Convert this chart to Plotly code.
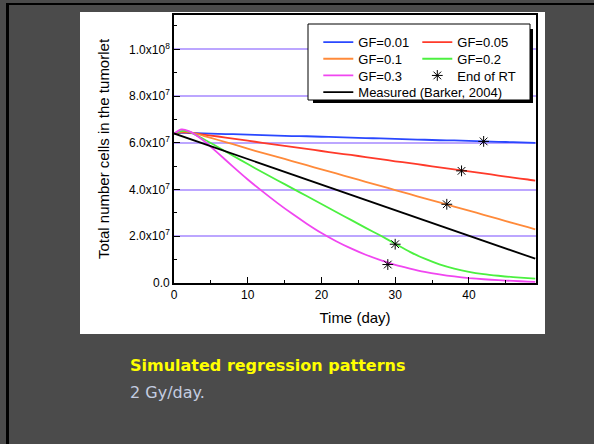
import plotly.graph_objects as go

# ---- data (cells x 1e7) ----
time = [0, 1, 2, 4, 6, 8, 10, 12, 14, 16, 18, 20, 22, 24, 26, 28, 30, 32, 34, 36, 38, 40, 42, 44, 46, 48, 49]
gf001 = [6.40, 6.43, 6.42, 6.40, 6.38, 6.37, 6.35, 6.33, 6.31, 6.29, 6.28, 6.26, 6.24, 6.22, 6.20, 6.19, 6.17, 6.15, 6.13, 6.11, 6.10, 6.08, 6.06, 6.04, 6.03, 6.01, 6.00]
gf005 = [6.40, 6.45, 6.44, 6.35, 6.27, 6.18, 6.09, 6.00, 5.91, 5.83, 5.74, 5.65, 5.56, 5.48, 5.39, 5.30, 5.21, 5.13, 5.04, 4.95, 4.86, 4.78, 4.69, 4.60, 4.51, 4.43, 4.38]
gf01 = [6.40, 6.48, 6.47, 6.30, 6.12, 5.94, 5.75, 5.57, 5.40, 5.22, 5.04, 4.86, 4.69, 4.51, 4.33, 4.16, 3.98, 3.80, 3.62, 3.45, 3.27, 3.10, 2.92, 2.74, 2.56, 2.39, 2.30]
gf02 = [6.40, 6.50, 6.48, 6.16, 5.81, 5.45, 5.09, 4.74, 4.40, 4.06, 3.72, 3.38, 3.04, 2.70, 2.36, 2.03, 1.68, 1.33, 1.04, 0.80, 0.62, 0.48, 0.38, 0.31, 0.25, 0.21, 0.19]
gf03 = [6.40, 6.57, 6.50, 6.10, 5.55, 4.98, 4.43, 3.92, 3.43, 2.97, 2.54, 2.14, 1.79, 1.48, 1.21, 0.98, 0.78, 0.62, 0.48, 0.37, 0.28, 0.21, 0.16, 0.12, 0.09, 0.06, 0.05]
meas_t = [0, 10, 20, 30, 40, 49]
meas_n = [6.40, 5.31, 4.21, 3.12, 2.02, 1.04]
rt_t = [42, 39, 37, 30, 29]
rt_n = [6.06, 4.80, 3.37, 1.66, 0.79]

yticks = [0, 2e7, 4e7, 6e7, 8e7, 1e8]
yticktext = ["0.0", "2.0x10<sup>7</sup>", "4.0x10<sup>7</sup>", "6.0x10<sup>7</sup>",
             "8.0x10<sup>7</sup>", "1.0x10<sup>8</sup>"]
xticks = [0, 10, 20, 30, 40]

S = 1e7
def sc(v):
    return [x * S for x in v]

fig = go.Figure()
series = [
    ("GF=0.01", gf001, "#2a48ff", "legend"),
    ("GF=0.05", gf005, "#ff3a2a", "legend"),
    ("GF=0.1", gf01, "#ff8a3a", "legend2"),
    ("GF=0.2", gf02, "#4cf040", "legend2"),
    ("GF=0.3", gf03, "#f046f0", "legend3"),
]
for name, vals, col, lg in series:
    fig.add_trace(go.Scatter(x=time, y=sc(vals), mode="lines", name=name,
                             line=dict(color=col, width=1.8, shape="spline", smoothing=0.6),
                             legend=lg))
fig.add_trace(go.Scatter(x=rt_t, y=sc(rt_n), mode="markers", name="End of RT",
                         marker=dict(symbol="asterisk-open", size=9, color="black",
                                     line=dict(color="black", width=1)),
                         legend="legend3"))
fig.add_trace(go.Scatter(x=meas_t, y=sc(meas_n), mode="lines", name="Measured (Barker, 2004)",
                         line=dict(color="black", width=1.8), legend="legend4"))

W, H = 594, 444
L, R, T, B = 174, 58, 15, 161
pw, ph = W - L - R, H - T - B
def px(x):
    return (x - L) / pw
def py(y):
    return (H - B - y) / ph

shapes = [
    # white panel
    dict(type="rect", xref="paper", yref="paper", x0=px(80), x1=px(545), y0=py(334), y1=py(12),
         fillcolor="white", line=dict(width=0), layer="below"),
    # slide borders
    dict(type="rect", xref="paper", yref="paper", x0=px(6), x1=px(594), y0=py(5), y1=py(3),
         fillcolor="black", line=dict(width=0), layer="below"),
    dict(type="rect", xref="paper", yref="paper", x0=px(6), x1=px(9), y0=py(444), y1=py(3),
         fillcolor="black", line=dict(width=0), layer="below"),
    # legend shadow and box
    dict(type="rect", xref="paper", yref="paper", x0=px(313), x1=px(533), y0=py(103), y1=py(29),
         fillcolor="black", line=dict(width=0), layer="above"),
    dict(type="rect", xref="paper", yref="paper", x0=px(308), x1=px(530), y0=py(100), y1=py(24),
         fillcolor="white", line=dict(color="black", width=1), layer="above"),
]

legfont = dict(family="Liberation Sans, Arial, sans-serif", size=13, color="black")
def leg(ytop, ew=54):
    return dict(orientation="h", x=px(318.3), xanchor="left", y=py(ytop), yanchor="top",
                bgcolor="rgba(0,0,0,0)", borderwidth=0, font=legfont,
                entrywidth=ew, entrywidthmode="pixels", itemwidth=30, tracegroupgap=0)

fig.update_layout(
    width=W, height=H,
    margin=dict(l=L, r=R, t=T, b=B),
    paper_bgcolor="#4b4b4b", plot_bgcolor="white",
    font=dict(family="Liberation Sans, Arial, sans-serif", size=12, color="black"),
    showlegend=True,
    legend=leg(27.2), legend2=leg(43.8), legend3=leg(60.5), legend4=leg(77.2, 160),
    shapes=shapes,
    xaxis=dict(range=[0, 49.1], tickmode="array", tickvals=xticks, ticks="inside", ticklen=6,
               tickwidth=1.2, tickcolor="black", showgrid=False, zeroline=False,
               showline=True, linecolor="black", linewidth=1.6, mirror=True,
               tickfont=dict(size=12),
               minor=dict(tickmode="array", tickvals=[5, 15, 25, 35, 45], ticks="inside",
                          ticklen=3, tickcolor="black", showgrid=False),
               title=dict(text="Time (day)", font=dict(size=15), standoff=11)),
    yaxis=dict(range=[0, 1.147e8], tickmode="array", tickvals=yticks, ticktext=yticktext,
               ticks="inside", ticklen=6, tickwidth=1.2, tickcolor="black",
               showgrid=True, gridcolor="#bca6ff", gridwidth=1.5, zeroline=False,
               showline=True, linecolor="black", linewidth=1.6, mirror=True,
               tickfont=dict(size=12),
               minor=dict(tickmode="array", tickvals=[1e7, 3e7, 5e7, 7e7, 9e7, 1.1e8],
                          ticks="inside", ticklen=3, tickcolor="black", showgrid=False),
               title=dict(text="Total number cells in the tumorlet", font=dict(size=15), standoff=16)),
    annotations=[
        dict(text="<b>Simulated regression patterns</b>", xref="paper", yref="paper",
             x=px(128), y=py(365), xanchor="left", yanchor="middle", showarrow=False,
             font=dict(family="DejaVu Sans", size=16, color="#ffff00")),
        dict(text="2 Gy/day.", xref="paper", yref="paper",
             x=px(128), y=py(392), xanchor="left", yanchor="middle", showarrow=False,
             font=dict(family="DejaVu Sans", size=16, color="#c4cde0")),
    ],
)

fig.write_html("out.html", config={"displayModeBar": False},
               post_script="document.body.style.margin='0px';document.body.style.overflow='hidden';")
